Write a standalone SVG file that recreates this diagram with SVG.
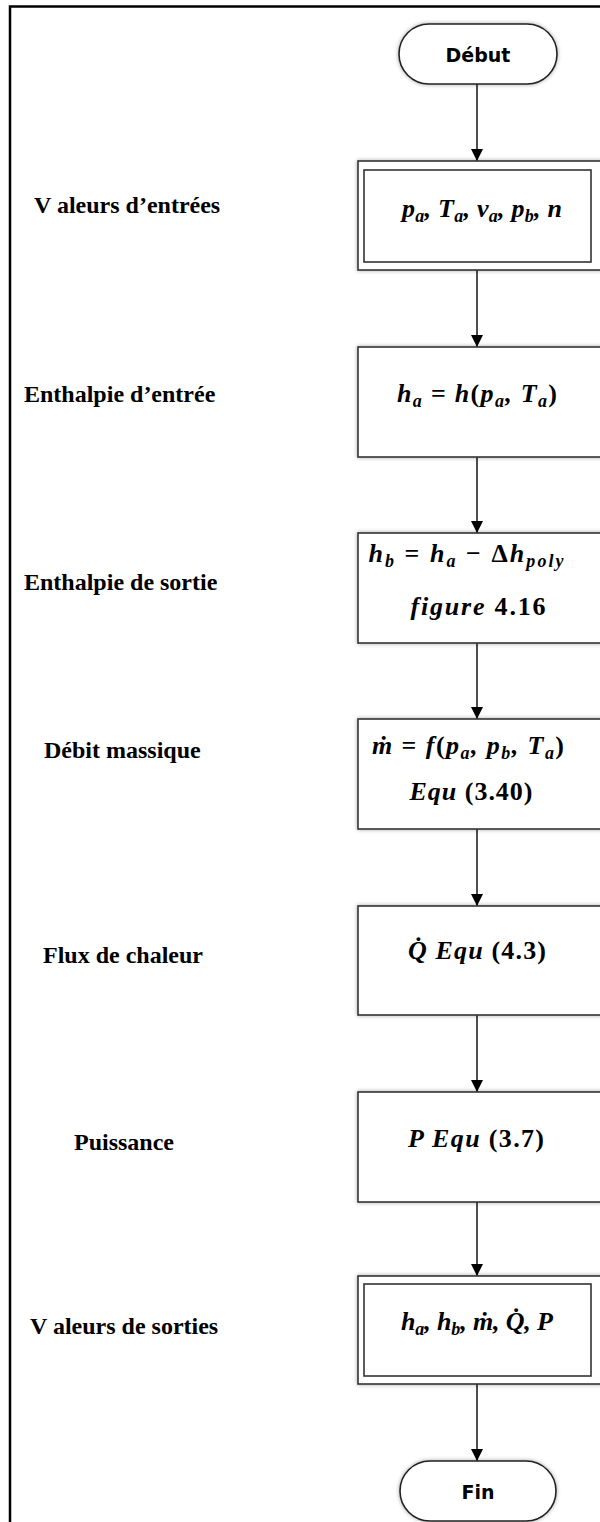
<svg xmlns="http://www.w3.org/2000/svg" width="600" height="1522" viewBox="0 0 600 1522">
<style>
.frame{fill:none;stroke:#000;stroke-width:2.5}
.box{fill:#fff;stroke:#333;stroke-width:1.6}
.term{fill:#fff;stroke:#222;stroke-width:1.6}
.lbl{font-family:"Liberation Serif",serif;font-weight:bold;font-size:24px;fill:#000}
.m{font-family:"Liberation Serif",serif;font-weight:bold;font-style:italic;font-size:26px;fill:#000;text-anchor:middle}
.u{font-style:normal}
.s{font-size:18px}
.t{font-family:"DejaVu Sans",sans-serif;font-weight:bold;font-size:19px;fill:#000;text-anchor:middle}
.conn{stroke:#222;stroke-width:1.6;fill:none}
</style>
<defs>
<marker id="ah" markerWidth="12" markerHeight="12" viewBox="0 0 12 12" refX="12" refY="6" orient="auto" markerUnits="userSpaceOnUse">
<path d="M0,0 L12,6 L0,12 Z" fill="#000"/>
</marker>
<filter id="sh" x="-10%" y="-20%" width="120%" height="140%">
<feGaussianBlur in="SourceAlpha" stdDeviation="2"/>
<feComponentTransfer><feFuncA type="linear" slope="0.35"/></feComponentTransfer>
<feMerge><feMergeNode/><feMergeNode in="SourceGraphic"/></feMerge>
</filter>
</defs>
<rect width="600" height="1522" fill="#fff"/>
<path class="frame" d="M10,1522 L10,6.5 L600,6.5"/>

<g id="labels">
<text class="lbl" x="34" y="213">V aleurs d’entrées</text>
<text class="lbl" x="24" y="402">Enthalpie d’entrée</text>
<text class="lbl" x="24" y="590">Enthalpie de sortie</text>
<text class="lbl" x="44" y="758">Débit massique</text>
<text class="lbl" x="43" y="963">Flux de chaleur</text>
<text class="lbl" x="74" y="1150">Puissance</text>
<text class="lbl" x="30" y="1334">V aleurs de sorties</text>
</g>

<g id="connectors">
<line class="conn" x1="477" y1="84" x2="477" y2="161" marker-end="url(#ah)"/>
<line class="conn" x1="477" y1="270" x2="477" y2="347" marker-end="url(#ah)"/>
<line class="conn" x1="477" y1="457" x2="477" y2="533" marker-end="url(#ah)"/>
<line class="conn" x1="477" y1="643" x2="477" y2="719" marker-end="url(#ah)"/>
<line class="conn" x1="477" y1="829" x2="477" y2="906" marker-end="url(#ah)"/>
<line class="conn" x1="477" y1="1015" x2="477" y2="1092" marker-end="url(#ah)"/>
<line class="conn" x1="477" y1="1202" x2="477" y2="1276" marker-end="url(#ah)"/>
<line class="conn" x1="477" y1="1384" x2="477" y2="1461" marker-end="url(#ah)"/>
</g>

<g id="debut">
<rect class="term" x="399" y="24" width="158" height="60" rx="30" filter="url(#sh)"/>
<text class="t" x="478" y="62">Début</text>
</g>

<g id="entrees">
<rect class="box" x="358" y="161" width="260" height="109" filter="url(#sh)"/>
<rect class="box" x="364" y="170" width="227" height="92"/>
<text class="m" x="482" y="217" textLength="160">p<tspan class="s" dy="5">a</tspan><tspan dy="-5">, T</tspan><tspan class="s" dy="5">a</tspan><tspan dy="-5">, v</tspan><tspan class="s" dy="5">a</tspan><tspan dy="-5">, p</tspan><tspan class="s" dy="5">b</tspan><tspan dy="-5">, n</tspan></text>
</g>

<g id="enthalpie-entree">
<rect class="box" x="358" y="347" width="260" height="110" filter="url(#sh)"/>
<text class="m" x="477" y="402" textLength="160">h<tspan class="s" dy="5">a</tspan><tspan class="u" dy="-5"> = </tspan>h<tspan class="u">(</tspan>p<tspan class="s" dy="5">a</tspan><tspan dy="-5">, T</tspan><tspan class="s" dy="5">a</tspan><tspan class="u" dy="-5">)</tspan></text>
</g>

<g id="enthalpie-sortie">
<rect class="box" x="358" y="533" width="260" height="110" filter="url(#sh)"/>
<text class="m" x="466" y="562" textLength="195">h<tspan class="s" dy="5">b</tspan><tspan class="u" dy="-5"> = </tspan>h<tspan class="s" dy="5">a</tspan><tspan class="u" dy="-5"> −  Δ</tspan>h<tspan class="s" dy="5">poly</tspan></text>
<text class="m" x="478" y="615" textLength="135">figure <tspan class="u">4.16</tspan></text>
</g>

<g id="debit">
<rect class="box" x="358" y="719" width="260" height="110" filter="url(#sh)"/>
<text class="m" x="468" y="754" textLength="192">ṁ<tspan class="u"> = </tspan>f<tspan class="u">(</tspan>p<tspan class="s" dy="5">a</tspan><tspan dy="-5">, p</tspan><tspan class="s" dy="5">b</tspan><tspan dy="-5">, T</tspan><tspan class="s" dy="5">a</tspan><tspan class="u" dy="-5">)</tspan></text>
<text class="m" x="471" y="800" textLength="123">Equ <tspan class="u">(3.40)</tspan></text>
</g>

<g id="flux">
<rect class="box" x="358" y="906" width="260" height="109" filter="url(#sh)"/>
<text class="m" x="477" y="959" textLength="138">Q̇  Equ <tspan class="u">(4.3)</tspan></text>
</g>

<g id="puissance">
<rect class="box" x="358" y="1092" width="260" height="110" filter="url(#sh)"/>
<text class="m" x="476" y="1147" textLength="136">P  Equ <tspan class="u">(3.7)</tspan></text>
</g>

<g id="sorties">
<rect class="box" x="358" y="1276" width="260" height="108" filter="url(#sh)"/>
<rect class="box" x="364" y="1284" width="227" height="92"/>
<text class="m" x="477" y="1330" textLength="152">h<tspan class="s" dy="5">a</tspan><tspan dy="-5">, h</tspan><tspan class="s" dy="5">b</tspan><tspan dy="-5">, ṁ, Q̇, P</tspan></text>
</g>

<g id="fin">
<rect class="term" x="400" y="1461" width="156" height="60" rx="30" filter="url(#sh)"/>
<text class="t" x="478" y="1499">Fin</text>
</g>
</svg>
